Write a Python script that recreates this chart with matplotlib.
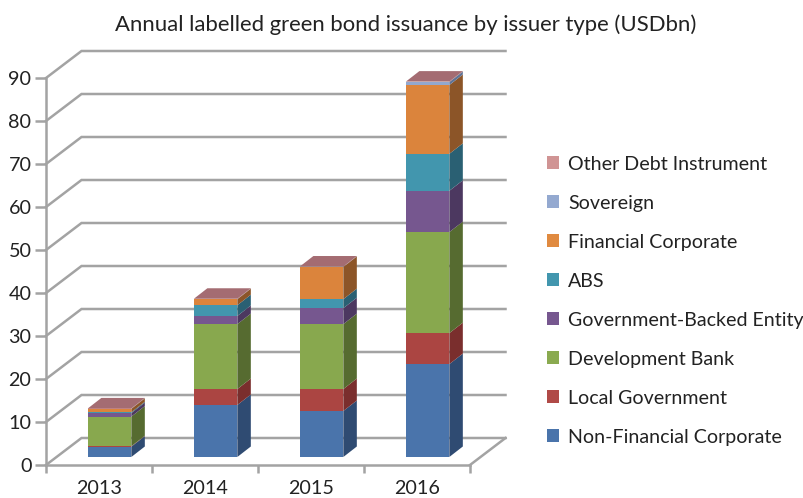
import matplotlib
matplotlib.use("Agg")
import matplotlib.pyplot as plt
from matplotlib.patches import Polygon, Patch

plt.rcParams['font.family'] = ['Lato', 'DejaVu Sans']

title = "Annual labelled green bond issuance by issuer type (USDbn)"
years = ["2013", "2014", "2015", "2016"]
series_names = ["Non-Financial Corporate", "Local Government", "Development Bank",
                "Government-Backed Entity", "ABS", "Financial Corporate",
                "Sovereign", "Other Debt Instrument"]

non_financial = [2.4, 12.1, 10.7, 21.6]
local_gov = [0.1, 3.7, 5.1, 7.2]
development = [6.9, 15.1, 15.1, 23.5]
gov_backed = [0.8, 1.9, 3.7, 9.6]
abs_bonds = [0.2, 2.5, 2.1, 8.6]
financial = [0.8, 1.4, 7.5, 16.0]
sovereign = [0.0, 0.0, 0.0, 0.7]
other_debt = [0.1, 0.1, 0.1, 0.1]
stack = [non_financial, local_gov, development, gov_backed,
         abs_bonds, financial, sovereign, other_debt]

front_colors = ["#4a74ab", "#ab4542", "#88a84e", "#76578f",
                "#4296ae", "#db843c", "#92a8cf", "#cf9292"]
side_colors = ["#2f4b72", "#7a2e2d", "#566b30", "#4c3860",
               "#2a6073", "#8c5528", "#5f7396", "#966c6c"]
top_color = "#a46c72"
legend_colors = ["#4a74ab", "#b04a47", "#8aaa50", "#76578f",
                 "#4296ae", "#e08a40", "#94a9d0", "#d09494"]
grid_color = "#a3a3a3"
text_color = "#222222"

W, H = 804, 498
fig = plt.figure(figsize=(W / 100, H / 100), dpi=100)
# front plane of the 3D box: 46..470 px wide, 78..465 px from the top
ax = fig.add_axes([46 / W, 1 - 465 / H, 424 / W, 387 / H])
ax.set_xlim(0, 4)
ax.set_ylim(0, 90)

# pseudo-3D offsets in data units
wall_dx, wall_dy = 35.5 / 106, 27 / 4.3
bar_shift_x, bar_shift_y = 10.6 / 106, 8 / 4.3
bar_dx, bar_dy = 13.5 / 106, 10.5 / 4.3
bar_w = 0.41

# wall gridlines and the floor outline
for v in range(0, 100, 10):
    ax.plot([0, wall_dx, 4 + wall_dx], [v, v + wall_dy, v + wall_dy],
            color=grid_color, lw=1.8, clip_on=False, zorder=1,
            solid_joinstyle="miter")
ax.plot([4, 4 + wall_dx], [0, wall_dy], color=grid_color, lw=1.8,
        clip_on=False, zorder=1)

# stacked bars: front, side and top faces
for i in range(len(years)):
    x0 = i + 0.5 - bar_w / 2 + bar_shift_x
    x1 = x0 + bar_w
    base = bar_shift_y
    for s, values in enumerate(stack):
        h = values[i]
        if h <= 0:
            continue
        y0, y1 = base, base + h
        ax.add_patch(Polygon([(x0, y0), (x1, y0), (x1, y1), (x0, y1)],
                             fc=front_colors[s], ec="none", clip_on=False, zorder=3))
        ax.add_patch(Polygon([(x1, y0), (x1 + bar_dx, y0 + bar_dy),
                              (x1 + bar_dx, y1 + bar_dy), (x1, y1)],
                             fc=side_colors[s], ec="none", clip_on=False, zorder=3))
        base = y1
    ax.add_patch(Polygon([(x0, base), (x1, base), (x1 + bar_dx, base + bar_dy),
                          (x0 + bar_dx, base + bar_dy)],
                         fc=top_color, ec="none", clip_on=False, zorder=3))

# axes, ticks and labels
for name in ("top", "right"):
    ax.spines[name].set_visible(False)
for name in ("left", "bottom"):
    ax.spines[name].set_color(grid_color)
    ax.spines[name].set_linewidth(1.8)
    ax.spines[name].set_zorder(2)
ax.patch.set_visible(False)

ax.set_yticks(range(0, 100, 10))
ax.tick_params(axis="y", length=8, width=1.8, color=grid_color,
               labelsize=14.2, labelcolor=text_color, pad=2.5)
ax.set_xticks(range(5))
ax.set_xticklabels([])
ax.tick_params(axis="x", which="major", length=6, width=1.8, color=grid_color)
ax.set_xticks([i + 0.5 for i in range(4)], minor=True)
ax.set_xticklabels(years, minor=True)
ax.tick_params(axis="x", which="minor", length=0, labelsize=14.2,
               labelcolor=text_color, pad=11)

fig.text(406 / W, 1 - 25 / H, title, ha="center", va="center",
         fontsize=15.95, color=text_color)

handles = [Patch(fc=c, ec="none") for c in legend_colors]
leg = fig.legend(handles[::-1], series_names[::-1], loc="upper left",
                 bbox_to_anchor=(547 / W, 1 - 155.5 / H), frameon=False,
                 fontsize=14.1, labelcolor=text_color, handlelength=0.63,
                 handleheight=0.63, handletextpad=0.45, labelspacing=1.125,
                 borderpad=0, borderaxespad=0)

fig.savefig("out.png", dpi=100)
